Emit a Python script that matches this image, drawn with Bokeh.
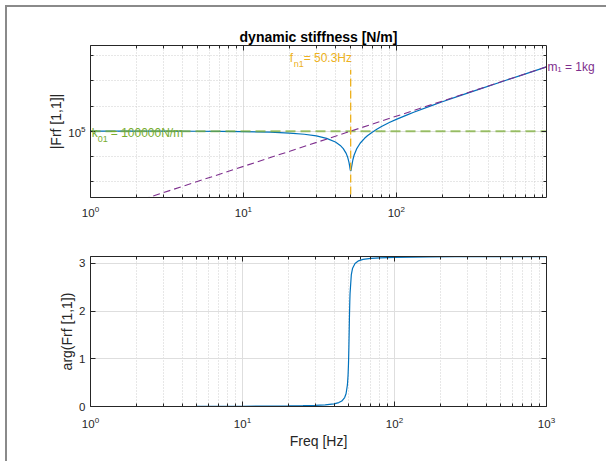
from bokeh.plotting import figure
from bokeh.models import Range1d, FixedTicker, LogAxis, LinearAxis, Label
from bokeh.layouts import column
from bokeh.embed import file_html
from bokeh.resources import INLINE

# ---- data ----
freq_mag = [1, 2, 3, 5, 7, 10, 15, 20, 25, 30, 35, 40, 43, 45, 47, 48, 49, 49.5, 49.8,
            50, 50.1, 50.3, 50.5, 50.6, 50.8, 51, 52, 53, 55, 58, 62, 65, 70, 75, 80, 90,
            100, 120, 130, 170, 200, 250, 350, 500, 700, 960]
stiff_mag = [99960, 99842, 99645, 99013, 98066, 96052, 91117, 84209, 75326, 64469, 51639,
             36835, 27094, 20190, 13026, 9375, 5790, 4144, 3312,
             2887, 2736, 2594, 2689, 2821, 3223, 3756, 7262, 11220, 19627, 32940, 51855,
             66875, 93514, 122120, 152718, 219840,
             294829, 468530, 567225, 1040963, 1479180, 2367436, 4736140, 9769638, 19244459, 36283904]

freq_ph = [1, 5, 10, 15, 20, 25, 30, 35, 40, 43, 45, 47, 48, 49, 49.5, 49.8, 50, 50.1, 50.3,
           50.5, 50.6, 50.8, 51, 52, 53, 55, 58, 62, 70, 80, 100, 130, 170, 250, 350, 500, 700, 1000]
phase = [0.0005, 0.0026, 0.0054, 0.0085, 0.0122, 0.0171, 0.0240, 0.0349, 0.0559, 0.0819,
         0.1150, 0.1875, 0.2671, 0.4515, 0.6630, 0.8863, 1.1020, 1.2324, 1.5261,
         1.8258, 1.9630, 2.1945, 2.3664, 2.7634, 2.8960, 2.9968, 3.0506, 3.0799, 3.1030,
         3.1146, 3.1241, 3.1298, 3.1332, 3.1362, 3.1378, 3.1390, 3.1397, 3.1408]

k_freq = [1, 960]
k_line = [1e5, 1e5]
m_freq = [1, 960]
m_line = [39.48, 3.638e7]
fn_freq = [50.3, 50.3]
fn_line = [1e2, 2.8e7]

fn_value = 50.3
m_text = "m\u2081 = 1kg"
x_major = [1, 10, 100, 1000]
x_minor = [2, 3, 4, 5, 6, 7, 8, 9, 20, 30, 40, 50, 60, 70, 80, 90,
           200, 300, 400, 500, 600, 700, 800, 900]
y_top_major = [1e5]
y_top_minor = [1e3, 1e4, 1e6, 1e7, 1e8]
y_bot_major = [0, 1, 2, 3]

BLUE = "#0072BD"
YELLOW = "#EDB120"
PURPLE = "#7E2F8E"
GREEN = "#77AC30"
AX = "#262626"
FONT = "Liberation Sans"

def style_axis(ax, labels=True):
    ax.axis_line_color = AX
    ax.major_tick_line_color = AX
    ax.minor_tick_line_color = AX
    ax.major_tick_in = 5
    ax.major_tick_out = 0
    ax.minor_tick_in = 3
    ax.minor_tick_out = 0
    ax.major_label_text_font = FONT
    ax.major_label_text_font_size = "11.5px"
    ax.major_label_text_color = AX
    ax.axis_label_text_font = FONT
    ax.axis_label_text_font_size = "14px"
    ax.axis_label_text_font_style = "normal"
    ax.axis_label_text_color = AX
    if not labels:
        ax.major_label_text_font_size = "1px"
        ax.major_label_text_alpha = 0
        ax.major_label_standoff = 0

def style_grid(p):
    for g in (p.xgrid, p.ygrid):
        g.grid_line_color = "#dedede"
        g.minor_grid_line_color = "#cfcfcf"
        g.minor_grid_line_dash = "1 2"

# ---- top: magnitude ----
top = figure(width=590, height=222, x_axis_type="log", y_axis_type="log",
             x_range=Range1d(1, 960), y_range=Range1d(10 ** 2.357, 10 ** 8.413),
             output_backend="svg", toolbar_location=None,
             min_border_left=83, min_border_right=51, min_border_top=38, min_border_bottom=32)
top.outline_line_color = None
xt = FixedTicker(ticks=x_major, minor_ticks=x_minor)
yt = FixedTicker(ticks=y_top_major, minor_ticks=y_top_minor)
top.xaxis.ticker = xt
top.yaxis.ticker = yt
top.yaxis.axis_label = "|Frf [1,1]|"
style_axis(top.xaxis[0])
style_axis(top.yaxis[0])
top.yaxis.axis_label_standoff = 1
top.xaxis.major_label_standoff = 8
style_grid(top)
ra = LogAxis(ticker=yt)
style_axis(ra, labels=False)
top.add_layout(ra, "right")
aa = LogAxis(ticker=xt)
style_axis(aa, labels=False)
top.add_layout(aa, "above")

# text for the mass line, drawn as a tick label just right of the frame
ma = LogAxis(ticker=FixedTicker(ticks=[m_line[-1]], minor_ticks=[]),
             major_label_overrides={m_line[-1]: m_text})
style_axis(ma)
ma.axis_line_color = None
ma.major_tick_in = 0
ma.major_tick_out = 0
ma.major_label_standoff = 1
ma.major_label_text_color = PURPLE
ma.major_label_text_font_size = "12px"
top.add_layout(ma, "right")

top.title.text = "dynamic stiffness [N/m]"
top.title.align = "center"
top.title.text_font = FONT
top.title.text_font_size = "14px"
top.title.text_font_style = "bold"
top.title.text_color = "#000000"
top.title.standoff = 2

top.line(freq_mag, stiff_mag, line_color=BLUE, line_width=1.2)
top.line(k_freq, k_line, line_color=GREEN, line_alpha=0.7, line_width=2, line_dash="10 5")
top.line(fn_freq, fn_line, line_color=YELLOW, line_width=1.3, line_dash="8 4")
top.line(m_freq, m_line, line_color=PURPLE, line_width=1.1, line_dash="7 4")

def sublabel(p, x, y, parts, color):
    for txt, dx, dy, size in parts:
        p.add_layout(Label(x=x, y=y, text=txt, x_offset=dx, y_offset=dy,
                           text_font=FONT, text_font_size=size, text_color=color,
                           text_baseline="alphabetic", text_align="left"))

ytop = 10 ** 8.413
sublabel(top, fn_value, ytop, [("f", -61, -12.6, "12px"), ("n1", -57, -18.3, "9px"),
                               ("= 50.3Hz", -47, -12.6, "12px")], YELLOW)
sublabel(top, k_freq[0], k_line[0], [("k", 1.3, -2.3, "12px"), ("01", 7.3, -8.3, "9px"),
                                     ("= 100000N/m", 20.3, -2.3, "12px")], GREEN)

# ---- bottom: phase ----
bot = figure(width=590, height=223, x_axis_type="log",
             x_range=Range1d(1, 1000), y_range=Range1d(0, 3.14159265),
             output_backend="svg", toolbar_location=None,
             min_border_left=83, min_border_right=51, min_border_top=27, min_border_bottom=46)
bot.outline_line_color = None
xt2 = FixedTicker(ticks=x_major, minor_ticks=x_minor)
yt2 = FixedTicker(ticks=y_bot_major, minor_ticks=[])
bot.xaxis.ticker = xt2
bot.yaxis.ticker = yt2
bot.xaxis.axis_label = "Freq [Hz]"
bot.yaxis.axis_label = "arg(Frf [1,1])"
style_axis(bot.xaxis[0])
style_axis(bot.yaxis[0])
bot.xaxis.major_label_standoff = 10
bot.xaxis.axis_label_standoff = 2
bot.yaxis.axis_label_standoff = 1
style_grid(bot)
ra2 = LinearAxis(ticker=yt2)
style_axis(ra2, labels=False)
bot.add_layout(ra2, "right")
aa2 = LogAxis(ticker=xt2)
style_axis(aa2, labels=False)
bot.add_layout(aa2, "above")

bot.line(freq_ph, phase, line_color=BLUE, line_width=1.2)

lay = column(top, bot, styles={"border-left": "2px solid #8a8a8a", "border-top": "2px solid #8a8a8a",
                               "margin-left": "5px", "margin-top": "5px",
                               "padding-right": "12px", "padding-bottom": "12px"})

open("out.html", "w").write(file_html(lay, INLINE))
